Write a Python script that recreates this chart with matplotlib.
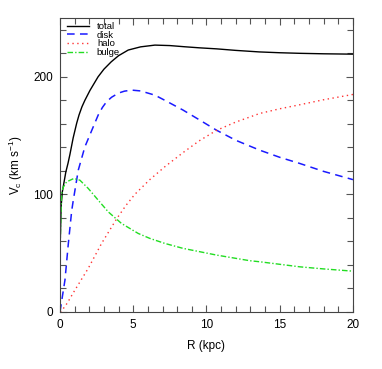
import matplotlib
matplotlib.use("Agg")
import matplotlib.pyplot as plt
from matplotlib.ticker import MultipleLocator

plt.rcParams['font.family'] = ['Liberation Sans', 'DejaVu Sans']
plt.rcParams['mathtext.fontset'] = 'custom'
plt.rcParams['mathtext.rm'] = 'Liberation Sans'
plt.rcParams['mathtext.it'] = 'Liberation Sans'

# Radii (kpc) and rotation velocities (km/s)
r_total = [0.0, 0.02, 0.08, 0.16, 0.23, 0.4, 0.55, 0.68, 0.9, 1.14, 1.3, 1.5, 1.7, 2.05, 2.6, 3.0, 3.5, 4.0, 4.66, 5.5, 6.48, 7.5, 8.5, 9.5, 10.7, 12.0, 13.6, 15.0, 16.4, 18.0, 20.0]
v_total = [0.0, 60.0, 90.0, 102.0, 107.0, 119.0, 126.5, 134.0, 148.0, 160.5, 167.5, 174.5, 180.0, 188.5, 200.0, 206.5, 212.8, 218.0, 222.8, 225.5, 227.0, 226.6, 225.6, 224.7, 223.8, 222.5, 221.2, 220.5, 220.0, 219.6, 219.3]

r_disk = [0.0, 0.34, 0.57, 0.8, 0.91, 1.25, 1.7, 2.27, 2.61, 2.9, 3.18, 3.52, 4.0, 4.4, 4.89, 5.5, 6.48, 7.16, 8.4, 9.5, 10.68, 12.0, 13.63, 15.0, 16.36, 18.0, 20.0]
v_disk = [0.0, 27.0, 58.0, 86.0, 95.0, 120.6, 140.4, 157.4, 167.5, 174.0, 178.8, 182.6, 186.2, 187.8, 188.7, 188.0, 184.4, 180.0, 171.7, 163.5, 154.6, 146.0, 137.6, 131.5, 126.3, 119.5, 112.5]

r_halo = [0.0, 0.1, 0.5, 1.02, 1.93, 2.84, 3.86, 4.5, 5.11, 6.13, 7.16, 8.4, 9.5, 10.68, 12.0, 13.63, 15.0, 16.36, 18.0, 20.0]
v_halo = [0.0, 0.5, 7.5, 18.5, 37.0, 58.2, 79.0, 90.5, 100.0, 112.5, 123.5, 135.5, 145.5, 154.4, 161.5, 168.8, 172.8, 176.2, 180.5, 185.0]

r_bulge = [0.0, 0.03, 0.07, 0.11, 0.2, 0.45, 0.95, 1.36, 1.93, 2.61, 3.3, 4.2, 5.34, 6.13, 7.16, 8.4, 10.68, 12.95, 13.63, 16.36, 18.0, 20.0]
v_bulge = [47.0, 65.0, 84.0, 100.0, 105.5, 110.6, 113.5, 112.0, 105.0, 95.0, 85.0, 75.2, 66.7, 62.5, 58.2, 54.0, 48.3, 43.5, 42.6, 38.3, 36.5, 34.6]

labels = ["total", "disk", "halo", "bulge"]

fig = plt.figure(figsize=(3.82, 3.69), dpi=100)
ax = fig.add_axes([0.157, 0.155, 0.767, 0.796])

ax.plot(r_total, v_total, color='black', lw=1.0, ls='-', label=labels[0])
ax.plot(r_disk, v_disk, color='#1a1aff', lw=1.1, ls=(0, (5, 3.5)), label=labels[1])
ax.plot(r_halo, v_halo, color='#ff3333', lw=1.0, ls=(0, (1, 2.5)), label=labels[2])
ax.plot(r_bulge, v_bulge, color='#22dd22', lw=1.0, ls=(0, (4, 1.5, 1, 1.5)), label=labels[3])

ax.set_xlim(0, 20)
ax.set_ylim(0, 250)
ax.xaxis.set_major_locator(MultipleLocator(5))
ax.xaxis.set_minor_locator(MultipleLocator(1))
ax.yaxis.set_major_locator(MultipleLocator(100))
ax.yaxis.set_minor_locator(MultipleLocator(20))
ax.tick_params(which='both', direction='in', top=True, right=True, color='#555555', labelsize=8.5, pad=5)
ax.tick_params(which='major', length=5, width=0.8)
ax.tick_params(which='minor', length=4, width=0.8)
for s in ax.spines.values():
    s.set_color('#444444')
    s.set_linewidth(0.8)

ax.set_xlabel('R (kpc)', fontsize=8.5, labelpad=7)
ax.set_ylabel(r'V$_{\rm c}$ (km s$^{-1}$)', fontsize=8.5, labelpad=6)

leg = ax.legend(loc='upper left', frameon=False, fontsize=6.8, handlelength=2.4,
                handletextpad=0.8, labelspacing=-0.02, borderaxespad=0.0,
                bbox_to_anchor=(0.01, 1.0))

fig.savefig('out.png', dpi=100)
